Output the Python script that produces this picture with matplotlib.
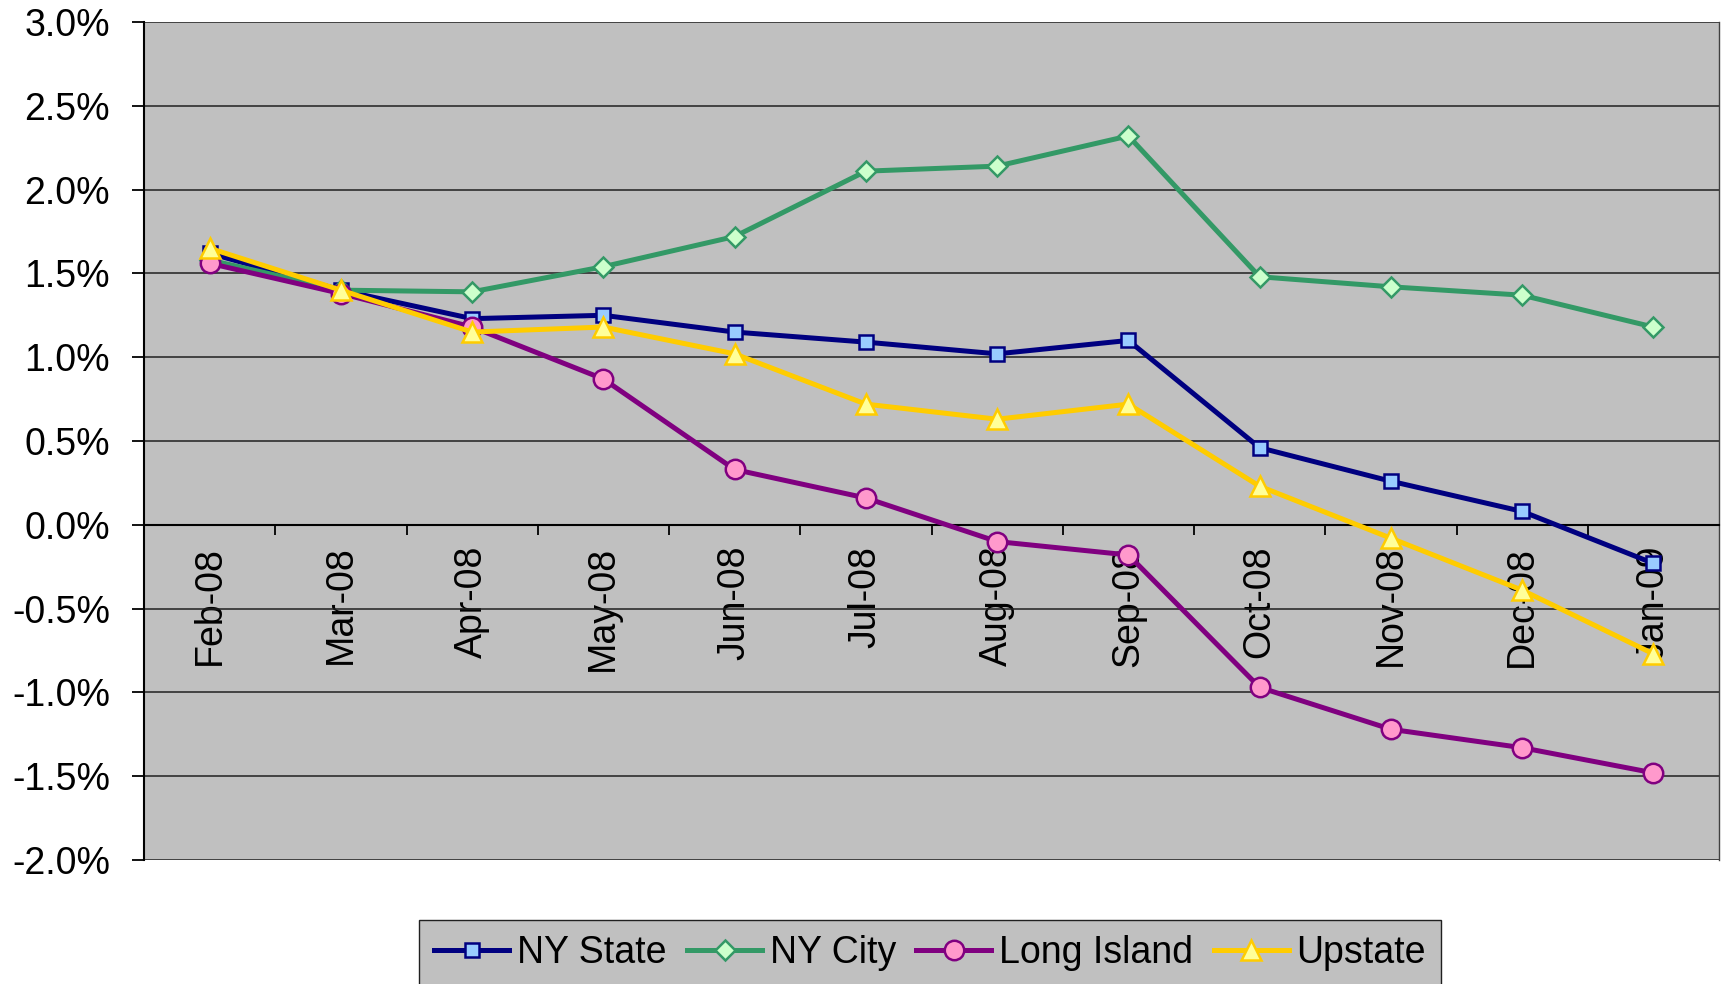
import numpy as np
import matplotlib
matplotlib.use("Agg")
import matplotlib.pyplot as plt
from matplotlib.ticker import FuncFormatter, FixedLocator


# ── data (monthly change, %) ─────────────────────────────────────────────────

months = ["Feb-08", "Mar-08", "Apr-08", "May-08", "Jun-08", "Jul-08",
          "Aug-08", "Sep-08", "Oct-08", "Nov-08", "Dec-08", "Jan-09"]

ny_state = [1.62, 1.40, 1.23, 1.25, 1.15, 1.09, 1.02, 1.10, 0.46, 0.26, 0.08, -0.23]
ny_city = [1.58, 1.40, 1.39, 1.54, 1.72, 2.11, 2.14, 2.32, 1.48, 1.42, 1.37, 1.18]
long_island = [1.56, 1.38, 1.18, 0.87, 0.33, 0.16, -0.10, -0.18, -0.97, -1.22, -1.33, -1.48]
upstate = [1.65, 1.40, 1.15, 1.18, 1.02, 0.72, 0.63, 0.72, 0.23, -0.08, -0.39, -0.77]

y_ticks = [-2.0, -1.5, -1.0, -0.5, 0.0, 0.5, 1.0, 1.5, 2.0, 2.5, 3.0]


# ── style ────────────────────────────────────────────────────────────────────

BG = "#C0C0C0"
FONT = "Liberation Sans"
FS = 27

SERIES = [
    # label, values, line colour, marker, face colour, marker size
    ("NY State", ny_state, "#000080", "s", "#99CCFF", 10),
    ("NY City", ny_city, "#339966", "D", "#CCFFCC", 10.5),
    ("Long Island", long_island, "#800080", "o", "#FF99CC", 14),
    ("Upstate", upstate, "#FFCC00", "^", "#FFFF99", 14),
]

plt.rcParams["font.family"] = [FONT, "DejaVu Sans"]

fig = plt.figure(figsize=(17.25, 9.84), dpi=100)
ax = fig.add_axes([144 / 1725, 1 - 860 / 984, (1719 - 144) / 1725, (860 - 22) / 984])
ax.set_facecolor(BG)

x = np.arange(len(months))

for label, vals, color, marker, face, ms in SERIES:
    ax.plot(x, np.array(vals) / 100, color=color, linewidth=3.6,
            marker=marker, markersize=ms, markerfacecolor=face,
            markeredgecolor=color, markeredgewidth=1.8, label=label,
            clip_on=False, zorder=3)

ax.set_xlim(-0.5, len(months) - 0.5)
ax.set_ylim(-0.02, 0.03)

# gridlines at every y tick
ax.set_yticks(np.array(y_ticks) / 100)
ax.yaxis.set_major_formatter(FuncFormatter(lambda y, _: f"{y * 100:.1f}%"))
ax.grid(True, axis="y", color="#202020", linewidth=1.1, zorder=1)
ax.set_axisbelow(True)
ax.tick_params(axis="y", direction="out", length=8.5, width=1.3,
               pad=16, labelsize=FS, colors="black")

# x axis sits on the zero line, labels hang below it inside the plot
ax.spines["bottom"].set_position(("data", 0))
ax.spines["bottom"].set_linewidth(1.5)
ax.spines["bottom"].set_color("black")
ax.set_xticks(x)
ax.set_xticklabels(months, rotation=90, ha="center", va="top", fontsize=FS)
ax.tick_params(axis="x", which="major", length=0, pad=15)
ax.xaxis.set_minor_locator(FixedLocator(np.arange(0.5, len(months) - 0.5, 1)))
ax.tick_params(axis="x", which="minor", direction="out", length=7, width=1.3)

ax.spines["left"].set_linewidth(1.5)
ax.spines["left"].set_color("black")
ax.spines["top"].set_visible(False)
ax.spines["right"].set_color("#404040")
ax.spines["right"].set_linewidth(1.0)

# ── legend ───────────────────────────────────────────────────────────────────

leg = fig.legend(loc="upper center", bbox_to_anchor=(930 / 1725, 1 - 920 / 984),
                 ncol=4, fontsize=FS, frameon=True, fancybox=False,
                 facecolor=BG, edgecolor="#202020", framealpha=1,
                 handlelength=2.0, handletextpad=0.2, columnspacing=0.55,
                 borderpad=0.4, borderaxespad=0)
leg.get_frame().set_linewidth(1.0)

fig.savefig("out.png", dpi=100, facecolor="white")
